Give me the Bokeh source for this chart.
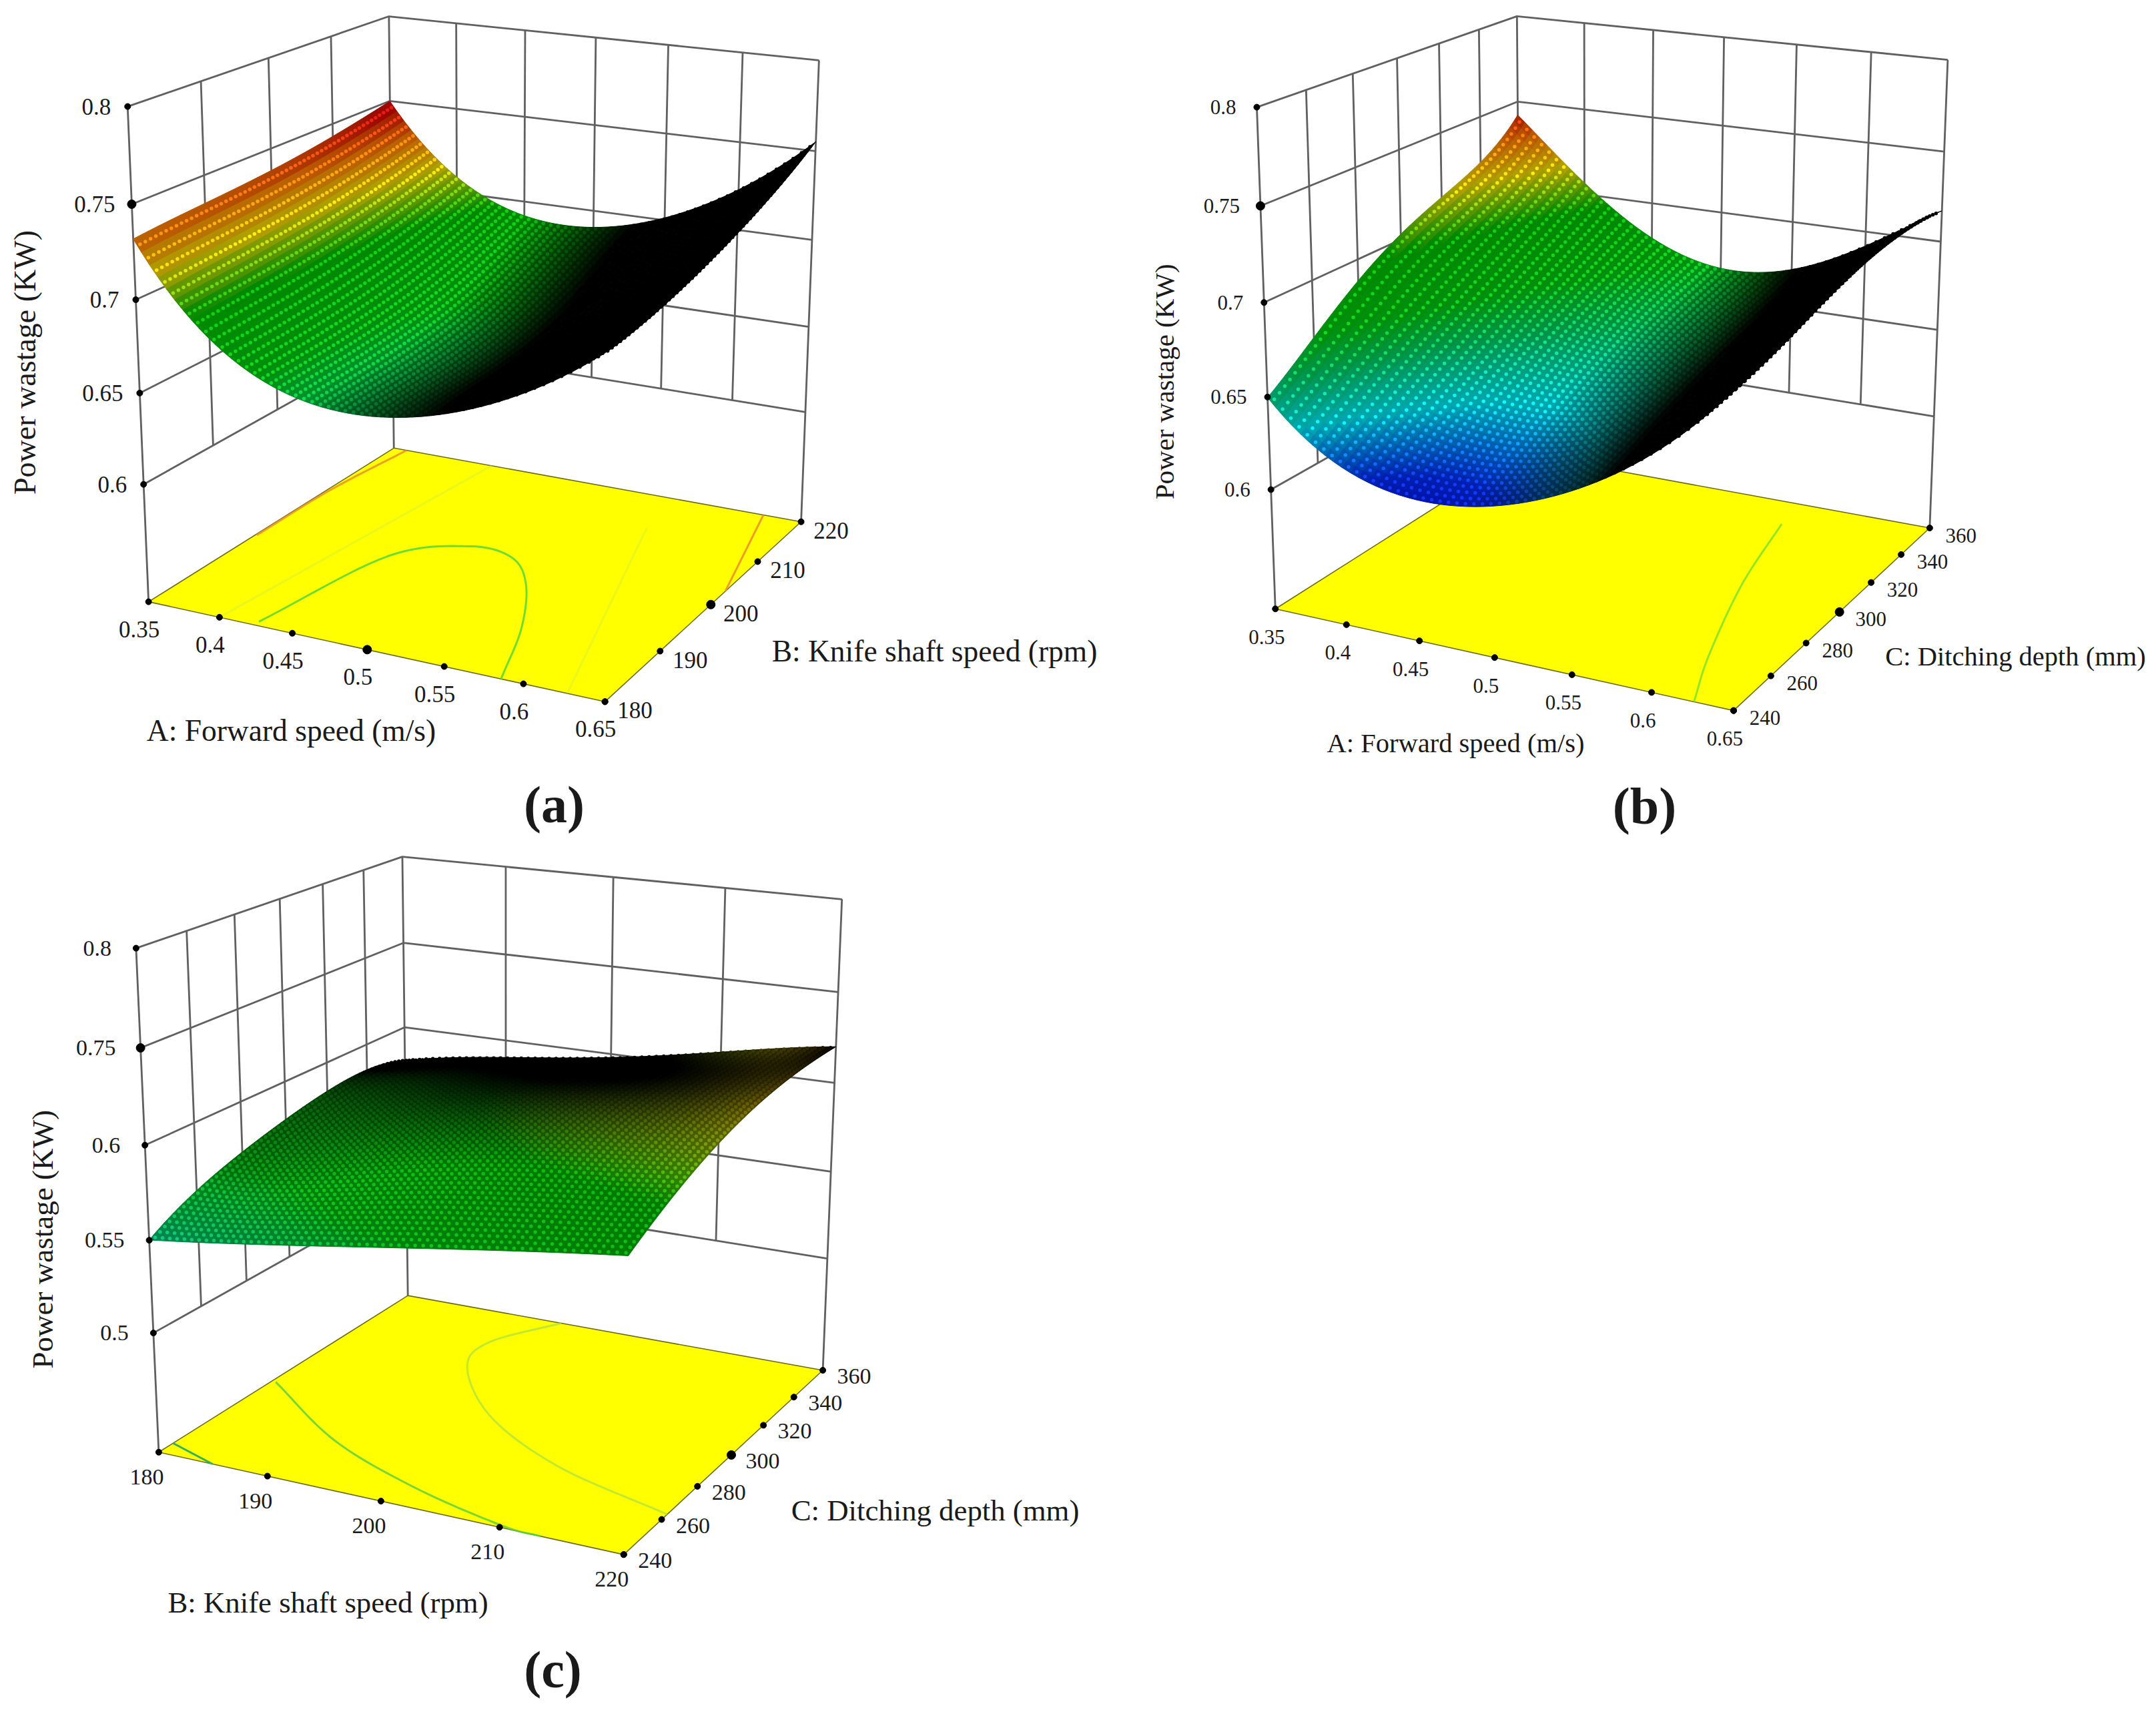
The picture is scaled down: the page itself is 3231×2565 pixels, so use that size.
import numpy as np
from numpy.polynomial import polynomial as P
from bokeh.plotting import figure
from bokeh.models import Range1d, ColumnDataSource
from bokeh.core.properties import value
from bokeh.embed import file_html
from bokeh.resources import INLINE

# ---------- values ----------
A_ticks = [0.35, 0.4, 0.45, 0.5, 0.55, 0.6, 0.65]
A_labels = ["0.35", "0.4", "0.45", "0.5", "0.55", "0.6", "0.65"]
B_ticks = [180, 190, 200, 210, 220]
B_labels = ["180", "190", "200", "210", "220"]
C_ticks = [240, 260, 280, 300, 320, 340, 360]
C_labels = ["240", "260", "280", "300", "320", "340", "360"]
Z_ticks_ab = [0.6, 0.65, 0.7, 0.75, 0.8]
Z_labels_ab = ["0.6", "0.65", "0.7", "0.75", "0.8"]
# Panel (c) prints uneven labels on evenly spaced ticks; positions are the even ones.
Z_ticks_c = [0.5, 0.55, 0.6, 0.65, 0.7]
Z_labels_c = ["0.5", "0.55", "0.6", "0.75", "0.8"]

# Power wastage, rows along first axis, columns along second axis
Z_a = [[.732, .735, .738, .743, .750],
       [.685, .688, .692, .699, .709],
       [.664, .666, .671, .680, .692],
       [.659, .661, .665, .676, .691],
       [.667, .669, .673, .685, .700],
       [.685, .689, .695, .708, .724],
       [.713, .718, .727, .739, .755]]
Z_b = [[.650, .669, .689, .703, .713, .724, .742],
       [.619, .635, .652, .666, .680, .693, .707],
       [.611, .624, .638, .650, .660, .670, .679],
       [.614, .624, .636, .646, .655, .662, .668],
       [.630, .638, .648, .655, .662, .667, .672],
       [.657, .664, .672, .677, .682, .687, .692],
       [.697, .701, .708, .715, .718, .721, .717]]
Z_c = [[.550, .564, .572, .579, .584, .585, .580],
       [.558, .570, .579, .586, .590, .591, .590],
       [.567, .581, .591, .598, .600, .600, .598],
       [.576, .589, .600, .606, .608, .609, .609],
       [.584, .596, .607, .613, .618, .620, .620]]

# Contours on the floor, in axis units: (first axis, second axis, colour, alpha)
contours_a = [([.424, .442, .479, .511, .538, .565, .586], [180.7, 197, 202, 201.5, 197, 189, 180], "#70dc30", 1.0),
              ([.351, .352, .36], [196, 208, 220], "#e8902a", 0.85),
              ([.65, .624], [203, 220], "#e8902a", 0.85),
              ([.40, .426], [180, 220], "#c8ec40", 0.4),
              ([.627, .566], [180, 212.6], "#c8ec40", 0.4)]
contours_b = [([.626, .607, .581, .563], [240, 264, 305, 345], "#70dc30", 0.75)]
contours_c = [([180, 185], [246, 240], "#30b060", 1.0),
              ([180.4, 191, 201, 210, 213.4], [290, 265, 250, 241, 240], "#60d040", 0.85),
              ([195.5, 192, 193, 199.7, 209, 220], [360, 339, 321, 295, 275.5, 263], "#a8e040", 0.7)]

# Colour scale of the surface (power wastage -> colour)
cmap_z = [.60, .615, .635, .655, .67, .695, .715, .73, .745]
cmap_r = [0, 0, 0, 0, 0, 0, 225, 240, 200]
cmap_g = [0, 40, 215, 190, 185, 175, 205, 120, 10]
cmap_b = [200, 225, 225, 90, 15, 0, 0, 0, 0]

# ---------- layout of each panel: box corners on the page ----------
panels = [
    dict(floor=[(222, 901), (906, 1051), (1200, 781), (590, 671)], top=[(191, 159), (582, 24), (1227, 90)],
         zr=(.534, .8), zt=Z_ticks_ab, zl=Z_labels_ab, Z=Z_a, ut=A_ticks, ul=A_labels, vt=B_ticks, vl=B_labels,
         uoff=(-14, 41), voff=(45, 13), zoff=-25, tick_fs=35, title_fs=45.5, yfs=46,
         utitle="A: Forward speed (m/s)", vtitle="B: Knife shaft speed (rpm)",
         utpos=(436, 1094), vtpos=(1400, 975), ypos=(37, 531), cap="(a)", cappos=(830, 1205),
         n=56, shade=(.62, -8, -.5, 1.0, 0), cshift=0, contours=contours_a, big=(3, 2, 3)),
    dict(floor=[(1913, 912), (2596, 1065), (2893, 789), (2276, 679)], top=[(1882, 159), (2274, 24), (2918, 90)],
         zr=(.534, .8), zt=Z_ticks_ab, zl=Z_labels_ab, Z=Z_b, ut=A_ticks, ul=A_labels, vt=C_ticks, vl=C_labels,
         uoff=(-13, 42), voff=(47, 11), zoff=-31, tick_fs=31, title_fs=40.5, yfs=41,
         utitle="A: Forward speed (m/s)", vtitle="C: Ditching depth (mm)",
         utpos=(2181, 1113), vtpos=(3020, 983), ypos=(1744, 561), cap="(b)", cappos=(2464, 1207),
         n=54, shade=(.7, -8, -.5, 1.0, .6), cshift=0, contours=contours_b, big=(None, 3, 3)),
    dict(floor=[(238, 2175), (934, 2329), (1233, 2052), (610, 1941)], top=[(203, 1420), (603, 1283), (1261, 1347)],
         zr=(.434, .7), zt=Z_ticks_c, zl=Z_labels_c, Z=Z_c, ut=B_ticks, ul=B_labels, vt=C_ticks, vl=C_labels,
         uoff=(-18, 37), voff=(47, 9), zoff=-37, tick_fs=34, title_fs=44.8, yfs=45,
         utitle="B: Knife shaft speed (rpm)", vtitle="C: Ditching depth (mm)",
         utpos=(491, 2400), vtpos=(1401, 2262), ypos=(63, 1845), cap="(c)", cappos=(828, 2501),
         n=60, shade=(.05, 0, 14, .9, 0), cshift=.1, contours=contours_c, big=(None, 3, 3)),
]

FONT = value("Liberation Serif")
WALL = "#606060"

p = figure(width=3215, height=2549, x_range=Range1d(0, 3215), y_range=Range1d(2549, 0),
           output_backend="svg", toolbar_location=None, min_border=0, outline_line_color=None)
p.axis.visible = False
p.grid.visible = False


def camera(floor, top):
    """Perspective camera of a box, fitted to its corners on the page."""
    obj = [(0, 0, 0), (1, 0, 0), (1, 1, 0), (0, 1, 0), (0, 0, 1), (0, 1, 1), (1, 1, 1)]
    img = list(floor) + list(top)
    rows = []
    for (u, v, w), (x, y) in zip(obj, img):
        rows.append([u, v, w, 1, 0, 0, 0, 0, -x*u, -x*v, -x*w, -x])
        rows.append([0, 0, 0, 0, u, v, w, 1, -y*u, -y*v, -y*w, -y])
    M = np.array(rows, float)
    sc = np.array([1, 1, 1, 1, 1, 1, 1, 1, 1000, 1000, 1000, 1000.])
    sol = np.linalg.svd(M * sc)[2][-1] * sc
    return sol.reshape(3, 4)


def project(C, u, v, w):
    u, v, w = np.asarray(u, float), np.asarray(v, float), np.asarray(w, float)
    h = np.stack([u, v, w, np.ones_like(u)])
    q = np.tensordot(C, h, axes=(1, 0))
    return q[0] / q[2], q[1] / q[2]


def hexes(r, g, b):
    r, g, b = [np.clip(c, 0, 255).astype(int) for c in (r, g, b)]
    return ["#%02x%02x%02x" % t for t in zip(r, g, b)]


def rounded(a):
    """Catmull-Rom rendering of a polyline, so that a read contour is drawn as a curve."""
    a = np.asarray(a, float)
    if len(a) < 3:
        return a
    q = np.r_[2 * a[0] - a[1], a, 2 * a[-1] - a[-2]]
    out = []
    for i in range(1, len(q) - 2):
        t = np.linspace(0, 1, 12, endpoint=False)
        out.append(.5 * (2 * q[i] + (q[i + 1] - q[i - 1]) * t
                         + (2 * q[i - 1] - 5 * q[i] + 4 * q[i + 1] - q[i + 2]) * t ** 2
                         + (-q[i - 1] + 3 * q[i] - 3 * q[i + 1] + q[i + 2]) * t ** 3))
    return np.r_[np.concatenate(out), a[-1]]


def draw(pn):
    C = camera(pn["floor"], pn["top"])
    ut, vt, zt = pn["ut"], pn["vt"], pn["zt"]
    zf, zc = pn["zr"]
    U = lambda x: (np.asarray(x, float) - ut[0]) / (ut[-1] - ut[0])
    V = lambda x: (np.asarray(x, float) - vt[0]) / (vt[-1] - vt[0])
    W = lambda z: (np.asarray(z, float) - zf) / (zc - zf)
    w0, w1 = float(W(zt[0])), float(W(zt[-1]))

    def seg(us, vs, ws, **kw):
        x, y = project(C, us, vs, ws)
        p.line(list(x), list(y), **kw)

    wall = dict(line_color=WALL, line_width=2.8)
    for z in zt:
        w = float(W(z))
        seg([0, 0, 1], [0, 1, 1], [w, w, w], **wall)
    for t in U(ut)[1:-1]:
        seg([t, t], [1, 1], [w0, w1], **wall)
    for t in V(vt)[1:-1]:
        seg([0, 0], [t, t], [w0, w1], **wall)
    seg([0, 0], [0, 0], [0, w1], **wall)
    seg([0, 0], [1, 1], [0, w1], **wall)
    seg([1, 1], [1, 1], [0, w1], **wall)

    fx, fy = project(C, [0, 1, 1, 0], [0, 0, 1, 1], [0, 0, 0, 0])
    p.patch(list(fx), list(fy), fill_color="#ffff00", line_color="#6b6b20", line_width=1.6)
    for cu, cv, col, a in pn["contours"]:
        ru, rv = rounded(U(cu)), rounded(V(cv))
        x, y = project(C, ru, rv, np.zeros(len(ru)))
        p.line(list(x), list(y), line_color=col, line_alpha=a, line_width=3)

    # surface mesh: a smooth fit through the read table, used only for rendering
    T = np.array(pn["Z"])
    gu, gv = np.meshgrid(np.linspace(0, 1, T.shape[0]), np.linspace(0, 1, T.shape[1]), indexing="ij")
    deg = [min(T.shape[0] - 1, 4), min(T.shape[1] - 1, 4)]
    coef = np.linalg.lstsq(P.polyvander2d(gu.ravel(), gv.ravel(), deg), T.ravel(), rcond=None)[0]
    coef = coef.reshape(deg[0] + 1, deg[1] + 1)
    n = pn["n"]
    mu, mv = np.meshgrid(np.linspace(0, 1, n + 1), np.linspace(0, 1, n + 1), indexing="ij")
    mz = P.polyval2d(mu, mv, coef)
    X, Y = project(C, mu, mv, W(mz))
    dzu, dzv = np.gradient(mz, 1 / n, 1 / n)
    cz = (mz[:-1, :-1] + mz[1:, 1:] + mz[1:, :-1] + mz[:-1, 1:]) / 4
    cu = (dzu[:-1, :-1] + dzu[1:, 1:]) / 2
    cv = (dzv[:-1, :-1] + dzv[1:, 1:]) / 2
    s0, su, sv, smax, sfront = pn["shade"]
    sh = np.clip(s0 + su * cu + sv * cv + sfront * (1 - mv[:-1, :-1]), 0, smax)
    zz = cz + pn["cshift"]
    r = np.interp(zz, cmap_z, cmap_r) * sh
    g = np.interp(zz, cmap_z, cmap_g) * sh
    b = np.interp(zz, cmap_z, cmap_b) * sh
    idx = sorted(((i, j) for i in range(n) for j in range(n)), key=lambda t: t[0] - t[1])
    xs, ys, dx, dy = [], [], [], []
    ii = np.array([t[0] for t in idx])
    jj = np.array([t[1] for t in idx])
    fc = hexes(r[ii, jj] * .78, g[ii, jj] * .78, b[ii, jj] * .78)
    lift = 18 * sh[ii, jj]
    dc = hexes(r[ii, jj] * 1.08 + lift, g[ii, jj] * 1.08 + lift, b[ii, jj] * 1.08 + lift)
    for i, j in idx:
        xs.append([X[i, j], X[i + 1, j], X[i + 1, j + 1], X[i, j + 1]])
        ys.append([Y[i, j], Y[i + 1, j], Y[i + 1, j + 1], Y[i, j + 1]])
        dx.append((X[i, j] + X[i + 1, j] + X[i + 1, j + 1] + X[i, j + 1]) / 4)
        dy.append((Y[i, j] + Y[i + 1, j] + Y[i + 1, j + 1] + Y[i, j + 1]) / 4)
    p.patches("xs", "ys", source=ColumnDataSource(dict(xs=xs, ys=ys, c=fc)),
              fill_color="c", line_color="c", line_width=1)
    p.scatter("x", "y", source=ColumnDataSource(dict(x=dx, y=dy, c=dc)), size=5.5,
              fill_color="c", line_color=None)

    def ticks(us, vs, ws, labels, off, align, big):
        x, y = project(C, us, vs, ws)
        sizes = [13 if k == big else 9 for k in range(len(labels))]
        p.scatter(list(x), list(y), size=sizes, color="black")
        p.text(list(x + off[0]), list(y + off[1]), text=labels, text_font=FONT,
               text_font_size=f"{pn['tick_fs']}px", text_align=align, text_baseline="middle",
               text_color="#1a1a1a")

    nu, nv, nz = len(ut), len(vt), len(zt)
    bu, bv, bz = pn["big"]
    ticks(U(ut), np.zeros(nu), np.zeros(nu), pn["ul"], pn["uoff"], "center", bu)
    ticks(np.ones(nv), V(vt), np.zeros(nv), pn["vl"], pn["voff"], "center", bv)
    ticks(np.zeros(nz), np.zeros(nz), W(zt), pn["zl"], (pn["zoff"], 0), "right", bz)

    def label(txt, pos, fs, **kw):
        p.text([pos[0]], [pos[1]], text=[txt], text_font=FONT, text_font_size=f"{fs}px",
               text_align="center", text_baseline="middle", text_color="#1a1a1a", **kw)

    label(pn["utitle"], pn["utpos"], pn["title_fs"])
    label(pn["vtitle"], pn["vtpos"], pn["title_fs"])
    label("Power wastage   (KW)", pn["ypos"], pn["yfs"], angle=np.pi / 2)
    label(pn["cap"], pn["cappos"], 78, text_font_style="bold")


for pn in panels:
    draw(pn)

open("out.html", "w").write(file_html(p, INLINE))
